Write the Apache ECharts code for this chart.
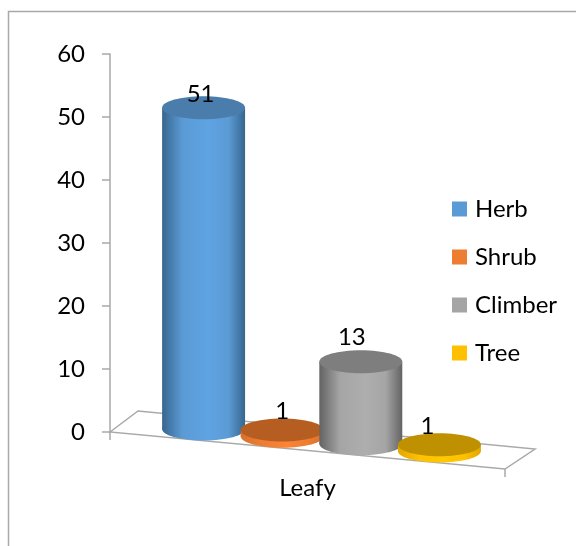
<!DOCTYPE html>
<html>
<head>
<meta charset="utf-8">
<style>
  html, body { margin: 0; padding: 0; background: #fff; }
  #chart { width: 576px; height: 546px; }
</style>
<script src="https://cdn.jsdelivr.net/npm/echarts@6/dist/echarts.min.js"></script>
</head>
<body>
<div id="chart"></div>
<script>
// data
var categories = ['Leafy'];
var seriesNames = ['Herb', 'Shrub', 'Climber', 'Tree'];
var herbValues = [51];
var shrubValues = [1];
var climberValues = [13];
var treeValues = [1];
var valueTicks = [0, 60, 10]; // min, max, interval

// look of each cylinder: edge, middle, lid
var cylinderColors = [
  { base: '#5b9bd5', edge: '#37668f', mid: '#5fa3e3', lid: '#4a7dab' },
  { base: '#ed7d31', edge: '#d9702b', mid: '#fb8436', lid: '#b65e22' },
  { base: '#a5a5a5', edge: '#636363', mid: '#aeaeae', lid: '#7e7e7e' },
  { base: '#ffc000', edge: '#e0a800', mid: '#ffc800', lid: '#bf9000' }
];
// label nudge from the lid centre, Excel put them a bit off
var labelShift = [[-3, -13], [0, -19], [-9, -25], [-12, -18]];

var axisGrey = '#a9a9a9';
var fontName = 'Lato';
var fontPx = 24;
var floorDepth = [28, -21];
var floorSlope = 0.0937;
var barStep = 0.199;   // of the band
var barRadius = 0.105; // of the band
var lidRadius = 11.5;

function frontY(api, x) {
  var origin = api.coord([0, 0]);
  var left = origin[0] - api.size([1, 0])[0] / 2;
  return origin[1] + (x - left) * floorSlope;
}

// floor plate under the bars
function renderFloor(params, api) {
  var origin = api.coord([0, 0]);
  var band = api.size([1, 0])[0];
  var left = origin[0] - band / 2;
  var right = left + band;
  var y0 = origin[1];
  var y1 = frontY(api, right);
  var lineStyle = { stroke: axisGrey, lineWidth: 1.5, fill: null };
  return {
    type: 'group',
    children: [
      {
        type: 'polygon',
        shape: {
          points: [
            [left, y0],
            [left + floorDepth[0], y0 + floorDepth[1]],
            [right + floorDepth[0] + 2, y1 + floorDepth[1] + 1],
            [right, y1]
          ]
        },
        style: lineStyle
      },
      { type: 'line', shape: { x1: left, y1: y0, x2: left, y2: y0 + 8 }, style: lineStyle },
      { type: 'line', shape: { x1: right, y1: y1, x2: right, y2: y1 + 8 }, style: lineStyle }
    ]
  };
}

function cylinderRenderer(index) {
  return function (params, api) {
    var band = api.size([1, 0])[0];
    var origin = api.coord([api.value(0), 0]);
    var rx = band * barRadius;
    var cx = origin[0] + floorDepth[0] / 2 + (index - 1.5) * band * barStep;
    var baseY = frontY(api, cx - floorDepth[0] / 2) + floorDepth[1] / 2;
    var height = origin[1] - api.coord([api.value(0), api.value(1)])[1];
    var topY = baseY - height;
    var c = cylinderColors[index];
    var side = new echarts.graphic.LinearGradient(0, 0, 1, 0, [
      { offset: 0, color: c.edge },
      { offset: 0.25, color: c.base },
      { offset: 0.55, color: c.mid },
      { offset: 0.8, color: c.base },
      { offset: 1, color: c.edge }
    ]);
    return {
      type: 'group',
      children: [
        { type: 'ellipse', shape: { cx: cx, cy: baseY, rx: rx, ry: lidRadius }, style: { fill: side } },
        { type: 'rect', shape: { x: cx - rx, y: topY, width: rx * 2, height: height }, style: { fill: side } },
        { type: 'ellipse', shape: { cx: cx, cy: topY, rx: rx, ry: lidRadius }, style: { fill: c.lid } },
        {
          type: 'text',
          style: {
            text: String(api.value(1)),
            x: cx + labelShift[index][0],
            y: topY + labelShift[index][1],
            align: 'center',
            verticalAlign: 'middle',
            fontFamily: fontName,
            fontSize: fontPx,
            fill: '#000'
          }
        }
      ]
    };
  };
}

function cylinderSeries(index, values) {
  return {
    name: seriesNames[index],
    type: 'custom',
    coordinateSystem: 'cartesian2d',
    renderItem: cylinderRenderer(index),
    itemStyle: { color: cylinderColors[index].base },
    encode: { x: 0, y: 1 },
    z: 3,
    data: values.map(function (v, i) { return [i, v]; })
  };
}

var chart = echarts.init(document.getElementById('chart'));

var option = {
  backgroundColor: '#fff',
  animation: false,
  textStyle: { fontFamily: fontName },
  graphic: [{
    type: 'polyline',
    silent: true,
    shape: { points: [[8.5, 546], [8.5, 11.5], [576, 11.5]] },
    style: { stroke: axisGrey, lineWidth: 1.5, fill: null }
  }],
  grid: { left: 110, top: 54, width: 395, height: 378 },
  legend: {
    orient: 'vertical',
    left: 447,
    top: 192,
    data: seriesNames,
    icon: 'rect',
    itemWidth: 15,
    itemHeight: 15,
    itemGap: 24,
    textStyle: { fontFamily: fontName, fontSize: fontPx, color: '#000', padding: [0, 0, 0, 3] }
  },
  xAxis: {
    type: 'category',
    data: categories,
    axisLine: { show: false },
    axisTick: { show: false },
    axisLabel: { margin: 44, fontFamily: fontName, fontSize: fontPx, color: '#000' }
  },
  yAxis: {
    type: 'value',
    min: valueTicks[0],
    max: valueTicks[1],
    interval: valueTicks[2],
    splitLine: { show: false },
    axisLine: { show: true, lineStyle: { color: axisGrey, width: 1.5 } },
    axisTick: { show: true, length: 8, lineStyle: { color: axisGrey, width: 1.5 } },
    axisLabel: { margin: 25, fontFamily: fontName, fontSize: fontPx, color: '#000' }
  },
  series: [
    { name: 'floor', type: 'custom', renderItem: renderFloor, encode: { x: 0, y: 1 }, silent: true, z: 1, data: [[0, 0]] },
    cylinderSeries(0, herbValues),
    cylinderSeries(1, shrubValues),
    cylinderSeries(2, climberValues),
    cylinderSeries(3, treeValues)
  ]
};

chart.setOption(option);
</script>
</body>
</html>
